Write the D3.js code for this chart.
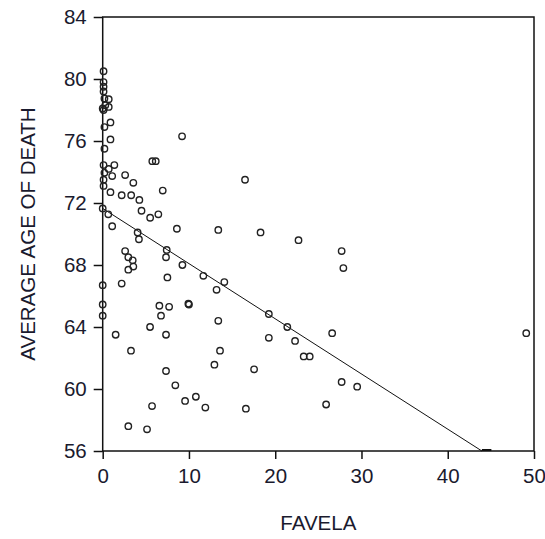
<!DOCTYPE html>
<html>
<head>
<meta charset="utf-8">
<script src="https://cdn.jsdelivr.net/npm/d3@7.9.0/dist/d3.min.js"></script>
<style>
  body { margin: 0; background: #fff; }
  svg text { font-family: "Liberation Sans", Arial, sans-serif; fill: #1a1a2e; }
</style>
</head>
<body>
<svg id="chart" width="545" height="539"></svg>
<script>
// scatter data: favela share (%) vs average age of death
const favela = [
  0.1, 0.1, 0.1, 0.1, 0.2, 0.7, 0.0, 0.3, 0.7, 0.1,
  0.9, 0.2, 0.9, 0.2, 9.2, 5.75, 6.15, 0.1, 1.35, 0.7,
  0.2, 1.1, 0.1, 0.1, 2.6, 3.55, 0.9, 2.2, 3.3, 4.25,
  6.96, 4.5, 5.5, 6.45, 0.0, 0.65, 1.1, 4.05, 4.2, 8.6,
  13.4, 2.6, 2.97, 3.48, 3.55, 2.97, 7.42, 7.34, 9.24, 7.5,
  11.67, 13.2, 14.1, 2.2, 0.0, 0.0, 6.57, 7.7, 9.93, 10.0,
  0.0, 6.76, 13.4, 1.5, 5.49, 7.34, 3.28, 13.6, 12.95, 7.34,
  8.42, 9.55, 10.8, 11.9, 5.72, 2.97, 5.14, 16.5, 18.3, 22.7,
  27.7, 27.9, 19.26, 21.4, 19.26, 22.3, 26.6, 23.3, 24.0, 17.55,
  27.7, 29.5, 16.6, 25.9, 49.1
];
const ageOfDeath = [
  80.5, 79.8, 79.5, 79.2, 78.75, 78.7, 78.1, 78.3, 78.2, 78.0,
  77.2, 76.9, 76.1, 75.5, 76.3, 74.7, 74.7, 74.45, 74.45, 74.2,
  73.95, 73.74, 73.5, 73.1, 73.8, 73.3, 72.7, 72.5, 72.5, 72.2,
  72.8, 71.5, 71.05, 71.27, 71.65, 71.27, 70.5, 70.1, 69.66, 70.34,
  70.26, 68.9, 68.5, 68.3, 67.9, 67.7, 68.97, 68.5, 68.0, 67.2,
  67.3, 66.4, 66.9, 66.8, 66.7, 65.45, 65.37, 65.3, 65.5, 65.45,
  64.73, 64.73, 64.4, 63.5, 64.0, 63.5, 62.47, 62.47, 61.57, 61.16,
  60.24, 59.23, 59.5, 58.8, 58.9, 57.6, 57.4, 73.5, 70.1, 69.6,
  68.9, 67.8, 64.84, 64.0, 63.3, 63.1, 63.6, 62.1, 62.1, 61.27,
  60.45, 60.15, 58.73, 59.0, 63.6
];

const xTicks = [0, 10, 20, 30, 40, 50];
const yTicks = [56, 60, 64, 68, 72, 76, 80, 84];

// fitted line
const fitIntercept = 71.65;
const fitSlope = -0.356;

const svg = d3.select('#chart');
const x = d3.scaleLinear().domain([0, 50]).range([102.7, 534]);
const y = d3.scaleLinear().domain([56, 84]).range([451, 17]);

// frame
svg.append('rect')
  .attr('x', x(0)).attr('y', y(84))
  .attr('width', x(50) - x(0)).attr('height', y(56) - y(84))
  .attr('fill', 'none').attr('stroke', '#111').attr('stroke-width', 1.5);

// axes
const xAxis = svg.append('g')
  .attr('transform', `translate(0,${y(56)})`)
  .call(d3.axisBottom(x).tickValues(xTicks).tickSize(8).tickPadding(9).tickFormat(d3.format('d')));
const yAxis = svg.append('g')
  .attr('transform', `translate(${x(0)},0)`)
  .call(d3.axisLeft(y).tickValues(yTicks).tickSize(9).tickPadding(7).tickFormat(d3.format('d')));

[xAxis, yAxis].forEach(g => {
  g.select('.domain').remove();
  g.selectAll('line').attr('stroke', '#111').attr('stroke-width', 1.5);
  g.selectAll('text').attr('font-size', '20.5px').attr('fill', '#1a1a2e');
});

// regression line, stops where it meets the bottom axis
const xEnd = (56 - fitIntercept) / fitSlope;
svg.append('line')
  .attr('x1', x(0)).attr('y1', y(fitIntercept))
  .attr('x2', x(xEnd)).attr('y2', y(56))
  .attr('stroke', '#111').attr('stroke-width', 1);
svg.append('line')
  .attr('x1', x(xEnd)).attr('y1', y(56) - 1)
  .attr('x2', x(xEnd + 1.1)).attr('y2', y(56) - 1)
  .attr('stroke', '#111').attr('stroke-width', 2);

// points
svg.append('g')
  .selectAll('circle')
  .data(favela.map((f, i) => ({ f, a: ageOfDeath[i] })))
  .join('circle')
  .attr('cx', d => x(d.f))
  .attr('cy', d => y(d.a))
  .attr('r', 3.2)
  .attr('fill', 'none')
  .attr('stroke', '#222')
  .attr('stroke-width', 1.4);

// axis titles
svg.append('text')
  .attr('x', (x(0) + x(50)) / 2).attr('y', 530)
  .attr('text-anchor', 'middle').attr('font-size', '20.5px')
  .text('FAVELA');
svg.append('text')
  .attr('transform', `translate(35,${(y(56) + y(84)) / 2}) rotate(-90)`)
  .attr('text-anchor', 'middle').attr('font-size', '20.5px')
  .text('AVERAGE AGE OF DEATH');
</script>
</body>
</html>
